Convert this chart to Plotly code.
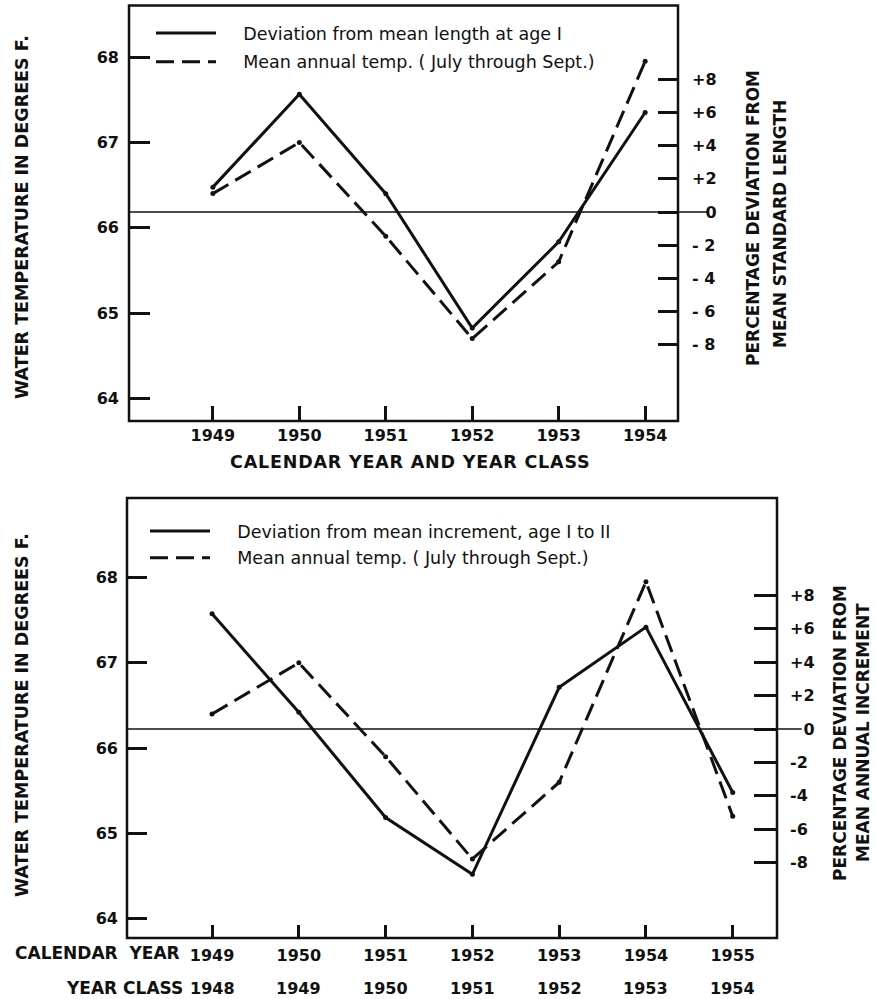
import plotly.graph_objects as go

# ---- data -------------------------------------------------------------
# upper panel: calendar year = year class
years_top = [1949, 1950, 1951, 1952, 1953, 1954]
length_dev_pct = [1.5, 7.1, 1.1, -7.0, -1.8, 6.0]        # % deviation from mean length at age I
temp_top = [66.4, 67.0, 65.9, 64.7, 65.6, 67.95]          # mean July-Sept water temp, deg F

# lower panel: calendar year and corresponding year class
years_cal = [1949, 1950, 1951, 1952, 1953, 1954, 1955]
year_class = ["1948", "1949", "1950", "1951", "1952", "1953", "1954"]
increment_dev_pct = [6.9, 1.0, -5.3, -8.7, 2.5, 6.1, -3.8]  # % deviation from mean increment I-II
temp_bottom = [66.4, 67.0, 65.9, 64.7, 65.6, 67.95, 65.2]

temp_ticks = [64, 65, 66, 67, 68]
pct_ticks = [-8, -6, -4, -2, 0, 2, 4, 6, 8]
pct_text_top = ["- 8", "- 6", "- 4", "- 2", "<span style='color:rgba(0,0,0,0)'>+</span>0",
                "+2", "+4", "+6", "+8"]
pct_text_bottom = ["-8", "-6", "-4", "-2", "<span style='color:rgba(0,0,0,0)'>+</span>0",
                   "+2", "+4", "+6", "+8"]

FONT = "DejaVu Sans"
INK = "#111111"
W, H = 876, 999
PAD = "\u00a0" * 4   # gap between legend key and its label


def px(x):
    return x / W


def py(y):
    return 1 - y / H


fig = go.Figure()

# ---- upper panel traces ----
fig.add_trace(go.Scatter(x=years_top, y=length_dev_pct, yaxis="y2", xaxis="x",
                         mode="lines", line=dict(color=INK, width=3),
                         name=PAD + "Deviation from mean length at age I",
                         legend="legend", legendgroup="a"))
fig.add_trace(go.Scatter(x=years_top, y=temp_top, yaxis="y", xaxis="x",
                         mode="lines", line=dict(color=INK, width=3, dash="18px,8px"),
                         name=PAD + "Mean annual temp. ( July through Sept.)",
                         legend="legend", legendgroup="b"))
fig.add_trace(go.Scatter(x=years_top, y=length_dev_pct, yaxis="y2", xaxis="x",
                         mode="markers", marker=dict(color=INK, size=5), showlegend=False))
fig.add_trace(go.Scatter(x=years_top, y=temp_top, yaxis="y", xaxis="x",
                         mode="markers", marker=dict(color=INK, size=5), showlegend=False))

# ---- lower panel traces ----
fig.add_trace(go.Scatter(x=years_cal, y=increment_dev_pct, yaxis="y4", xaxis="x2",
                         mode="lines", line=dict(color=INK, width=3),
                         name=PAD + "Deviation from mean increment, age I to II",
                         legend="legend2", legendgroup="c"))
fig.add_trace(go.Scatter(x=years_cal, y=temp_bottom, yaxis="y3", xaxis="x2",
                         mode="lines", line=dict(color=INK, width=3, dash="18px,8px"),
                         name=PAD + "Mean annual temp. ( July through Sept.)",
                         legend="legend2", legendgroup="d"))
fig.add_trace(go.Scatter(x=years_cal, y=increment_dev_pct, yaxis="y4", xaxis="x2",
                         mode="markers", marker=dict(color=INK, size=5), showlegend=False))
fig.add_trace(go.Scatter(x=years_cal, y=temp_bottom, yaxis="y3", xaxis="x2",
                         mode="markers", marker=dict(color=INK, size=5), showlegend=False))

tick_font = dict(family=FONT, size=16, color=INK, weight="bold")
common = dict(showgrid=False, zeroline=False, showline=False, ticks="inside",
              tickcolor=INK, tickwidth=2.5, tickfont=tick_font)

legend_font = dict(family=FONT, size=17.5, color=INK)

fig.update_layout(
    width=W, height=H,
    margin=dict(l=0, r=0, t=0, b=0),
    paper_bgcolor="white", plot_bgcolor="white",
    xaxis=dict(domain=[px(129), px(678)], range=[1948.03, 1954.38], anchor="y",
               tickvals=years_top, ticktext=[str(v) for v in years_top],
               ticklen=15, ticklabelstandoff=3, **common),
    yaxis=dict(domain=[py(421), py(5.5)], range=[63.734, 68.605], anchor="x",
               tickvals=temp_ticks, ticklen=21, ticklabelstandoff=9, **common),
    yaxis2=dict(domain=[py(421), py(5.5)], range=[-12.6, 12.45], anchor="x",
                overlaying="y", side="right", tickvals=pct_ticks, ticktext=pct_text_top,
                ticklen=20, ticklabelstandoff=13, **common),
    xaxis2=dict(domain=[px(127), px(777)], range=[1948.02, 1955.51], anchor="y3",
                tickvals=years_cal, ticktext=[str(v) for v in years_cal],
                ticklen=13, ticklabelstandoff=6, **common),
    yaxis3=dict(domain=[py(938), py(498)], range=[63.774, 68.932], anchor="x2",
                tickvals=temp_ticks, ticklen=20, ticklabelstandoff=8, **common),
    yaxis4=dict(domain=[py(938), py(498)], range=[-12.51, 13.83], anchor="x2",
                overlaying="y3", side="right", tickvals=pct_ticks, ticktext=pct_text_bottom,
                ticklen=23, ticklabelstandoff=12, **common),
    legend=dict(x=px(151), y=py(15), xanchor="left", yanchor="top", font=legend_font,
                bgcolor="rgba(0,0,0,0)", itemwidth=60, tracegroupgap=3,
                traceorder="grouped"),
    legend2=dict(x=px(145), y=py(513), xanchor="left", yanchor="top", font=legend_font,
                 bgcolor="rgba(0,0,0,0)", itemwidth=60, tracegroupgap=1,
                 traceorder="grouped"),
)

# frame boxes and zero-deviation reference lines
for xr, yr in (("x", "y"), ("x2", "y3")):
    fig.add_shape(type="rect", xref=f"{xr} domain", yref=f"{yr} domain",
                  x0=0, x1=1, y0=0, y1=1, line=dict(color=INK, width=2.5), layer="above")
fig.add_shape(type="line", xref="x domain", yref="y2", x0=0, x1=1.053, y0=0, y1=0,
              line=dict(color=INK, width=1.5))
fig.add_shape(type="line", xref="x2 domain", yref="y4", x0=0, x1=1.038, y0=0, y1=0,
              line=dict(color=INK, width=1.5))

title_font = dict(family=FONT, size=17, color=INK, weight="bold")


def note(text, x, y, angle=0, xanchor="center", size=17, xref="paper"):
    f = dict(title_font)
    f["size"] = size
    fig.add_annotation(text=text, x=x, y=y, xref=xref, yref="paper", showarrow=False,
                       textangle=angle, xanchor=xanchor, yanchor="middle", font=f)


# axis titles
note("WATER TEMPERATURE IN DEGREES F.", px(22), py(217), angle=-90, size=17.5)
note("WATER TEMPERATURE IN DEGREES F.", px(22), py(715), angle=-90, size=17.5)
note("PERCENTAGE DEVIATION FROM", px(753), py(218), angle=-90, size=17)
note("MEAN STANDARD LENGTH", px(780), py(224), angle=-90, size=17)
note("PERCENTAGE DEVIATION FROM", px(840), py(733), angle=-90, size=17)
note("MEAN ANNUAL INCREMENT", px(863), py(733), angle=-90, size=17)
note("<span style='letter-spacing:0.8px'>CALENDAR YEAR AND YEAR CLASS</span>",
     px(410), py(462), size=17.5)
note("CALENDAR  YEAR", px(182), py(953), xanchor="right", size=17)
note("YEAR CLASS", px(185), py(988), xanchor="right", size=17)
for yr, cls in zip(years_cal, year_class):
    note(cls, yr, py(988), size=16, xref="x2")

fig.write_html("out.html")
